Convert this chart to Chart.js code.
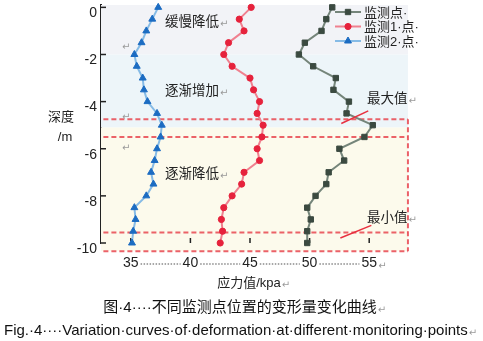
<!DOCTYPE html>
<html>
<head>
<meta charset="utf-8">
<script src="https://cdn.jsdelivr.net/npm/chart.js"></script>
<style>
html, body { margin: 0; padding: 0; background: #fff; }
canvas { display: block; }
</style>
</head>
<body>
<canvas id="lineChart" width="483" height="341"></canvas>
<script>
// 深度 (m)
var depth = [0, -0.5, -1, -1.5, -2, -2.5, -3, -3.5, -4, -4.5, -5, -5.5, -6, -6.5, -7, -7.5, -8, -8.5, -9, -9.5, -10];
// 应力值 (kpa)
var point0 = [51.9, 51.4, 51.0, 49.6, 49.1, 50.3, 52.2, 52.0, 53.3, 53.1, 55.3, 54.6, 52.5, 52.9, 51.6, 51.4, 50.5, 49.8, 50.1, 49.8, 49.8];
var point1 = [45.1, 44.1, 44.5, 43.2, 42.8, 43.5, 45.0, 45.3, 45.8, 45.6, 46.1, 46.0, 45.6, 45.8, 44.5, 44.3, 43.5, 42.8, 42.6, 42.7, 42.5];
var point2 = [37.3, 36.8, 36.3, 35.9, 35.3, 35.5, 36.0, 36.1, 36.4, 37.2, 37.6, 37.5, 37.2, 37.0, 36.7, 36.9, 36.3, 35.3, 35.4, 35.2, 35.1];
var seriesNames = ['监测点', '监测1 点', '监测2 点'];
var xTicks = [35, 40, 45, 50, 55];
var yTicks = [0, -2, -4, -6, -8, -10];

var LATIN = '"Liberation Sans", Arial, sans-serif';
var CJK = '"Liberation Sans", "Noto Sans CJK SC", sans-serif';
var MARK = '#9a9a9a';

function toPoints(vals) {
    return vals.map(function (v, i) { return { x: v, y: depth[i] }; });
}

// 段落标记 ↵ 跟在文字后面
function text(ctx, str, x, y, font, color, align, mark) {
    ctx.save();
    ctx.font = font;
    ctx.fillStyle = color || '#222';
    ctx.textAlign = align || 'left';
    ctx.textBaseline = 'middle';
    var shown = str.replace(/ /g, '·');
    ctx.fillText(shown, x, y);
    if (mark) {
        var w = ctx.measureText(shown).width;
        var ex = align === 'center' ? x + w / 2 : x + w;
        ctx.font = '10px "DejaVu Sans"';
        ctx.fillStyle = MARK;
        ctx.textAlign = 'left';
        ctx.fillText('↵', ex + 1, y + 2);
    }
    ctx.restore();
}

function seg(ctx, x1, y1, x2, y2) {
    ctx.beginPath();
    ctx.moveTo(x1, y1);
    ctx.lineTo(x2, y2);
    ctx.stroke();
}

// 不让刻度文字把绘图区往里挤
function noPad(scale) {
    scale.paddingTop = 0;
    scale.paddingBottom = 0;
    scale.paddingLeft = 0;
    scale.paddingRight = 0;
}

var decor = {
    id: 'decor',
    beforeDatasetsDraw: function (chart) {
        var ctx = chart.ctx, xs = chart.scales.x, ys = chart.scales.y;
        var left = chart.chartArea.left, right = xs.getPixelForValue(58.25);
        // 背景分区
        var edges = [0.1, -2, -5.1, -10.35];
        var fills = ['#f2f3f7', '#edf5f9', '#fcfaec'];
        for (var i = 0; i < fills.length; i++) {
            var t = ys.getPixelForValue(edges[i]), b = ys.getPixelForValue(edges[i + 1]);
            ctx.fillStyle = fills[i];
            ctx.fillRect(left, t, right - left, b - t);
        }
        // 红色虚线框
        ctx.save();
        ctx.strokeStyle = 'rgba(232, 70, 80, 0.85)';
        ctx.lineWidth = 2;
        ctx.setLineDash([5, 3]);
        var x0 = xs.getPixelForValue(32.7);
        [-4.75, -5.5, -9.55, -10.35].forEach(function (d) {
            var y = ys.getPixelForValue(d);
            seg(ctx, x0, y, right, y);
        });
        seg(ctx, right, ys.getPixelForValue(-4.75), right, ys.getPixelForValue(-10.35));
        ctx.restore();

        // 刻度线朝内
        ctx.save();
        ctx.strokeStyle = '#222';
        ctx.lineWidth = 1.5;
        yTicks.forEach(function (v) {
            var y = ys.getPixelForValue(v);
            seg(ctx, left, y, left + 5, y);
        });
        xTicks.forEach(function (v) {
            var x = xs.getPixelForValue(v);
            seg(ctx, x, chart.chartArea.bottom, x, chart.chartArea.bottom - 5);
        });
        ctx.restore();
    },
    afterDraw: function (chart) {
        var ctx = chart.ctx, xs = chart.scales.x, ys = chart.scales.y;

        // x轴刻度之间的点线
        ctx.save();
        ctx.font = '14px ' + LATIN;
        ctx.strokeStyle = '#8a8a8a';
        ctx.lineWidth = 1.5;
        ctx.setLineDash([1.5, 1.5]);
        var ly = 264;
        for (var i = 0; i < xTicks.length - 1; i++) {
            var a = xs.getPixelForValue(xTicks[i]) + ctx.measureText(String(xTicks[i])).width / 2 + 2;
            var b = xs.getPixelForValue(xTicks[i + 1]) - ctx.measureText(String(xTicks[i + 1])).width / 2 - 2;
            seg(ctx, a, ly, b, ly);
        }
        ctx.restore();
        ctx.save();
        ctx.font = '10px "DejaVu Sans"';
        ctx.fillStyle = MARK;
        ctx.textBaseline = 'middle';
        ctx.fillText('↵', xs.getPixelForValue(55) + 9, ly + 2);
        ctx.restore();

        // 图例
        var lx = 335, lyy = 12;
        chart.data.datasets.forEach(function (ds, i) {
            var y = lyy + i * 14.5;
            ctx.save();
            ctx.strokeStyle = ds.borderColor;
            ctx.lineWidth = 2;
            seg(ctx, lx, y, lx + 26, y);
            ctx.fillStyle = ds.pointBackgroundColor;
            ctx.strokeStyle = ds.pointBorderColor;
            ctx.lineWidth = 1;
            Chart.helpers.drawPoint(ctx, { pointStyle: ds.pointStyle, radius: ds.pointRadius, rotation: 0, borderWidth: 1 }, lx + 13, y);
            ctx.restore();
            text(ctx, ds.label + ' ', lx + 29, y + 1, '13px ' + CJK, '#222', 'left', false);
        });

        // 区段说明
        text(ctx, '缓慢降低', 165, 22, '13.5px ' + CJK, '#222', 'left', true);
        text(ctx, '逐渐增加', 165, 91, '13.5px ' + CJK, '#222', 'left', true);
        text(ctx, '逐渐降低', 165, 174, '13.5px ' + CJK, '#222', 'left', true);
        [47, 117, 148].forEach(function (y) {
            ctx.save();
            ctx.font = '10px "DejaVu Sans"';
            ctx.fillStyle = MARK;
            ctx.textBaseline = 'middle';
            ctx.fillText('↵', 122, y);
            ctx.restore();
        });

        // 最大值 / 最小值
        ctx.save();
        ctx.strokeStyle = '#e8303f';
        ctx.lineWidth = 1.5;
        seg(ctx, xs.getPixelForValue(52.66), ys.getPixelForValue(-4.93), xs.getPixelForValue(54.92), ys.getPixelForValue(-4.39));
        seg(ctx, xs.getPixelForValue(52.58), ys.getPixelForValue(-9.79), xs.getPixelForValue(55.18), ys.getPixelForValue(-9.25));
        ctx.restore();
        text(ctx, '最大值', 367, 99, '13.5px ' + CJK, '#222', 'left', true);
        text(ctx, '最小值', 367, 218, '13.5px ' + CJK, '#222', 'left', true);

        // 坐标轴名称
        text(ctx, '深度', 61, 117, '13px ' + CJK, '#222', 'center', false);
        text(ctx, '/m', 65, 137, '13px ' + CJK, '#222', 'center', false);
        text(ctx, '应力值/kpa', 249, 283, '13px ' + CJK, '#222', 'center', true);

        // 图题
        text(ctx, '图 4    不同监测点位置的变形量变化曲线', 240, 308, '15px ' + CJK, '#111', 'center', true);
        text(ctx, 'Fig. 4    Variation curves of deformation at different monitoring points', 4, 331, '15px ' + LATIN, '#111', 'left', true);
    }
};

var datasets = [
    {
        label: seriesNames[0],
        data: toPoints(point0),
        borderColor: '#75857a',
        pointBackgroundColor: '#3b4a40',
        pointBorderColor: '#3b4a40',
        pointStyle: 'rect',
        pointRadius: 3.8
    },
    {
        label: seriesNames[1],
        data: toPoints(point1),
        borderColor: '#f0808f',
        pointBackgroundColor: '#e6223c',
        pointBorderColor: '#e6223c',
        pointStyle: 'circle',
        pointRadius: 3.1
    },
    {
        label: seriesNames[2],
        data: toPoints(point2),
        borderColor: '#86bbe6',
        pointBackgroundColor: '#1c6cc2',
        pointBorderColor: '#1c6cc2',
        pointStyle: 'triangle',
        pointRadius: 4
    }
];
datasets.forEach(function (ds) {
    ds.showLine = true;
    ds.borderWidth = 2;
    ds.pointBorderWidth = 1;
    ds.clip = false;
});

var canvas = document.getElementById('lineChart');
var chart = new Chart(canvas, {
    type: 'scatter',
    data: { datasets: datasets },
    options: {
        responsive: false,
        animation: false,
        layout: { padding: { left: 0, right: 84, top: 0, bottom: 0 } },
        plugins: {
            legend: { display: false },
            tooltip: { enabled: false }
        },
        scales: {
            x: {
                type: 'linear',
                min: 32.5,
                max: 57.5,
                afterFit: function (scale) { scale.height = 98; noPad(scale); },
                afterBuildTicks: function (scale) { scale.ticks = xTicks.map(function (v) { return { value: v }; }); },
                grid: { display: true, drawOnChartArea: false, drawTicks: false, color: 'rgba(0,0,0,0)' },
                border: { display: true, color: '#222', width: 2 },
                ticks: { padding: 12, color: '#222', font: { family: LATIN, size: 14 } }
            },
            y: {
                type: 'linear',
                min: -10,
                max: 0.1,
                afterFit: function (scale) { scale.width = 101; noPad(scale); },
                afterBuildTicks: function (scale) { scale.ticks = yTicks.map(function (v) { return { value: v }; }); },
                grid: { display: true, drawOnChartArea: false, drawTicks: false, color: 'rgba(0,0,0,0)' },
                border: { display: true, color: '#222', width: 2 },
                ticks: { padding: 4, labelOffset: 6, color: '#222', font: { family: LATIN, size: 14 } }
            }
        }
    },
    plugins: [decor]
});
</script>
</body>
</html>
